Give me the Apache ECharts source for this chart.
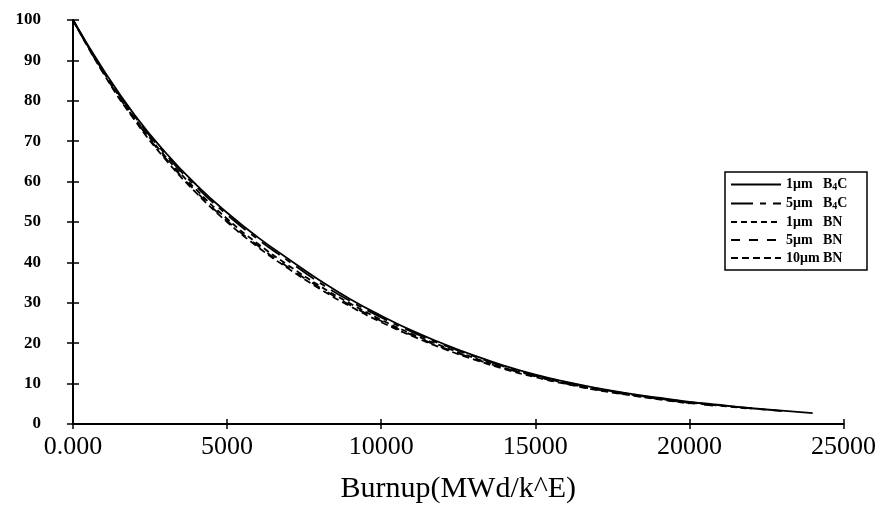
<!DOCTYPE html>
<html>
<head>
<meta charset="utf-8">
<script src="https://cdn.jsdelivr.net/npm/echarts@6/dist/echarts.min.js"></script>
<style>html,body{margin:0;padding:0;background:#fff}#c{width:879px;height:509px}</style>
</head>
<body>
<div id="c"></div>
<script>
// Burnup values (MWd/k^E)
const burnup = [0,1000,2000,3000,4000,5000,6000,7000,8000,9000,10000,11000,12000,13000,14000,15000,16000,17000,18000,19000,20000,21000,22000,23000,24000];
// Series values (%)
const b4c1 = [100,87.5,76.5,67.2,59.2,52.3,46.2,40.8,35.6,30.9,26.8,23.1,19.9,17.0,14.4,12.2,10.4,8.9,7.6,6.5,5.5,4.7,3.9,3.3,2.7];
const b4c5 = [100,87.2,76.2,66.8,58.7,51.8,45.7,40.3,35.0,30.4,26.4,22.8,19.6,16.8,14.2,12.1,10.3,8.8,7.5,6.4,5.4,4.6,3.9,3.2];
const bn1  = [100,87.0,75.8,66.2,58.0,50.8,44.6,39.2,34.2,29.8,25.8,22.3,19.2,16.4,13.9,11.9,10.1,8.6,7.4,6.3,5.3,4.5,3.8];
const bn5  = [100,86.8,75.5,65.8,57.5,50.3,44.1,38.7,33.8,29.4,25.5,22.0,18.9,16.2,13.8,11.8,10.0,8.5,7.3,6.2,5.2,4.4];
const bn10 = [100,86.6,75.2,65.5,57.2,50.0,43.8,38.4,33.5,29.1,25.2,21.8,18.7,16.0,13.6,11.6,9.9,8.4,7.2,6.1,5.1];
const seriesNames = ['1μm B4C','5μm B4C','1μm BN','5μm BN','10μm BN'];
const xTicks = ['0.000','5000','10000','15000','20000','25000'];
const yTicks = ['0','10','20','30','40','50','60','70','80','90','100'];

const values = [b4c1,b4c5,bn1,bn5,bn10];
const dashes = ['solid',[22,7,6,7],[6,4],[9,9],[7,4]];

function pairs(v){ return v.map((y,i)=>[burnup[i],y]); }

const chart = echarts.init(document.getElementById('c'));
const serifF = '"Liberation Serif","DejaVu Serif",serif';
const tx = {color:'#000',fontFamily:serifF,fontWeight:'bold',fontSize:14,lineHeight:13};
chart.setOption({
  backgroundColor:'#fff',
  animation:false,
  grid:{left:73,right:34,top:20,bottom:84},
  xAxis:[{
    type:'value',min:0,max:25000,interval:5000,
    axisLine:{lineStyle:{color:'#000',width:2}},
    axisTick:{show:true,length:5,lineStyle:{color:'#000',width:1.5}},
    splitLine:{show:false},
    axisLabel:{color:'#000',fontFamily:serifF,fontSize:26,margin:10,
      formatter:(v)=>xTicks[Math.round(v/5000)]},
    name:'Burnup(MWd/k^E)',nameLocation:'middle',nameGap:50,
    nameTextStyle:{color:'#000',fontFamily:serifF,fontSize:30}
  },{
    type:'value',min:0,max:25000,interval:5000,position:'bottom',
    axisLine:{show:false},
    axisTick:{show:true,inside:true,length:5,lineStyle:{color:'#000',width:1.5}},
    axisLabel:{show:false},splitLine:{show:false}
  }],
  yAxis:[{
    type:'value',min:0,max:100,interval:10,
    axisLine:{show:true,lineStyle:{color:'#000',width:2}},
    axisTick:{show:true,length:6,lineStyle:{color:'#000',width:1.5}},
    splitLine:{show:false},
    axisLabel:{color:'#000',fontFamily:serifF,fontWeight:'bold',fontSize:17,margin:32,
      formatter:(v)=>yTicks[Math.round(v/10)]}
  },{
    type:'value',min:0,max:100,interval:10,position:'left',
    axisLine:{show:false},
    axisTick:{show:true,inside:true,length:6,lineStyle:{color:'#000',width:1.5}},
    axisLabel:{show:false},splitLine:{show:false}
  }],
  legend:{
    orient:'vertical',left:725,top:172,
    backgroundColor:'#fff',borderColor:'#000',borderWidth:1.5,borderRadius:0,
    padding:[5,2,5,5],itemGap:4,itemWidth:50,itemHeight:13,
    data:seriesNames,
    itemStyle:{opacity:0},
    textStyle:Object.assign({},tx,{
      rich:{w:Object.assign({},tx,{width:37}),a:tx,
            b:Object.assign({},tx,{width:42}),
            c:Object.assign({},tx,{width:27}),
            s:Object.assign({},tx,{fontSize:10,lineHeight:10,padding:[5,0,0,0]})}}),
    formatter:(n)=>{
      const parts=n.split(' ');
      const lead='{w|'+parts[0]+'}';
      if(parts[1]==='B4C') return lead+'{a|B}{s|4}{c|C}';
      return lead+'{b|'+parts[1]+'}';
    }
  },
  series: values.map((v,k)=>({
    name:seriesNames[k],type:'line',data:pairs(v),
    xAxisIndex:0,yAxisIndex:0,
    symbol:'none',smooth:true,
    lineStyle:{color:'#000',width:1.8,type:dashes[k]},
    itemStyle:{color:'#000'}
  }))
});
</script>
</body>
</html>
